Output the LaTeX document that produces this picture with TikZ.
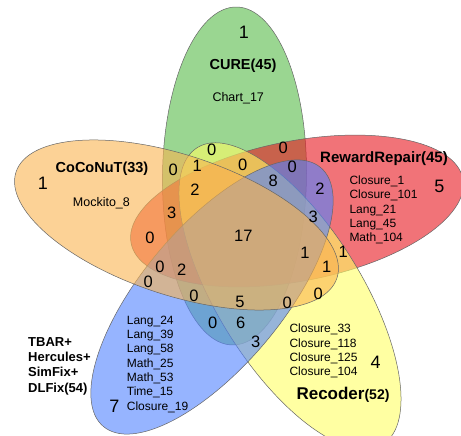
\documentclass[tikz,border=0pt]{standalone}
\usepackage{fontspec}
\setmainfont{Liberation Sans}
\definecolor{cgreen}{RGB}{88,188,72}
\definecolor{cred}{RGB}{232,22,30}
\definecolor{cyellow}{RGB}{255,255,100}
\definecolor{cblue}{RGB}{80,130,255}
\definecolor{corange}{RGB}{250,180,80}
\begin{document}
\begin{tikzpicture}[x=1pt,y=-1pt,
  setshape/.style={draw=black!60, line width=0.5pt, fill opacity=0.6},
  cnt/.style={font=\fontsize{16.5}{16.5}\selectfont, inner sep=0pt},
  bigcnt/.style={font=\fontsize{18}{18}\selectfont, inner sep=0pt},
  itemlist/.style={font=\fontsize{12}{14.3}\selectfont, inner sep=0pt, align=left, anchor=north west},
  settitle/.style={font=\bfseries\fontsize{14.5}{14.5}\selectfont, inner sep=0pt, text depth=0pt}]
\clip (0,0) rectangle (461,436);
\useasboundingbox (0,0) rectangle (461,436);
\fill[white] (0,0) rectangle (461,436);
% centres
\coordinate (gC) at (234.5,176);
\coordinate (rC) at (297,211);
\coordinate (yC) at (290,296);
\coordinate (bC) at (212,297);
\coordinate (oC) at (176.5,225);
% ellipses
\path[setshape, fill=cgreen, rotate around={-0.7:(gC)}] (gC) ellipse [x radius=72pt, y radius=169pt];
\path[setshape, fill=cred, rotate around={11:(rC)}] (rC) ellipse [x radius=169pt, y radius=70pt];
\path[setshape, fill=cyellow, rotate around={-58:(yC)}] (yC) ellipse [x radius=175pt, y radius=72pt];
\path[setshape, fill=cblue, rotate around={50:(bC)}] (bC) ellipse [x radius=169pt, y radius=70pt];
\path[setshape, fill=corange, rotate around={-18.3:(oC)}] (oC) ellipse [x radius=169pt, y radius=70pt];
% titles
\node[settitle] (tcure) at (243,64) {CURE(45)};
\node[settitle] (tcoco) at (102,167) {CoCoNuT(33)};
\node[settitle, font=\bfseries\fontsize{15}{15}\selectfont] (trr) at (384,157) {RewardRepair(45)};
\node[inner sep=0pt, anchor=base] (trec) at (343,399) {\bfseries\fontsize{17}{17}\selectfont Recoder\fontsize{14}{14}\selectfont(52)};
\node[font=\bfseries\fontsize{13}{15.3}\selectfont, inner sep=0pt, align=left, anchor=north west] (ttbar) at (28,337) {TBAR+\\Hercules+\\SimFix+\\DLFix(54)};
% item lists
\node[font=\fontsize{12.5}{12.5}\selectfont, inner sep=0pt, anchor=base west] (lgreen) at (212.3,101.5) {Chart\_17};
\node[font=\fontsize{12.5}{12.5}\selectfont, inner sep=0pt, anchor=base west] (lorange) at (72.7,206.2) {Mockito\_8};
\node[itemlist] (lred) at (349.3,175.7) {Closure\_1\\Closure\_101\\Lang\_21\\Lang\_45\\Math\_104};
\node[itemlist] (lblue) at (126.7,315.7) {Lang\_24\\Lang\_39\\Lang\_58\\Math\_25\\Math\_53\\Time\_15\\Closure\_19};
\node[itemlist] (lyellow) at (289.3,324) {Closure\_33\\Closure\_118\\Closure\_125\\Closure\_104};
% single-set counts
\node[bigcnt] (ng) at (244,32) {1};
\node[bigcnt] (no) at (43,183) {1};
\node[bigcnt] (nr) at (439.3,186.7) {5};
\node[bigcnt] (nb) at (114.3,406) {7};
\node[bigcnt] (ny) at (375.7,362.7) {4};
% intersection counts
\node[cnt] (i01) at (211.7,150) {0};
\node[cnt] (i02) at (283.3,148.3) {0};
\node[cnt] (i03) at (173.3,170) {0};
\node[cnt] (i04) at (197.3,166) {1};
\node[cnt] (i05) at (242.7,165) {0};
\node[cnt] (i06) at (292.3,166.7) {0};
\node[cnt] (i07) at (273.3,180.7) {8};
\node[cnt] (i08) at (320,188.3) {2};
\node[cnt] (i09) at (195,189.3) {2};
\node[cnt] (i10) at (171.7,212.7) {3};
\node[cnt] (i11) at (313.3,217.3) {3};
\node[cnt] (i12) at (150,238.3) {0};
\node[cnt] (i13) at (243.3,236) {17};
\node[cnt] (i14) at (305,253.3) {1};
\node[cnt] (i15) at (343.3,251.7) {1};
\node[cnt] (i16) at (326.7,266.7) {1};
\node[cnt] (i17) at (160,266.7) {0};
\node[cnt] (i18) at (181.7,269.3) {2};
\node[cnt] (i19) at (148.3,281.7) {0};
\node[cnt] (i20) at (194,296) {0};
\node[cnt] (i21) at (240,301.7) {5};
\node[cnt] (i22) at (287.3,303.3) {0};
\node[cnt] (i23) at (318.3,294) {0};
\node[cnt] (i24) at (212.7,323.3) {0};
\node[cnt] (i25) at (240.7,323.3) {6};
\node[cnt] (i26) at (255.7,341.7) {3};
\end{tikzpicture}
\end{document}
